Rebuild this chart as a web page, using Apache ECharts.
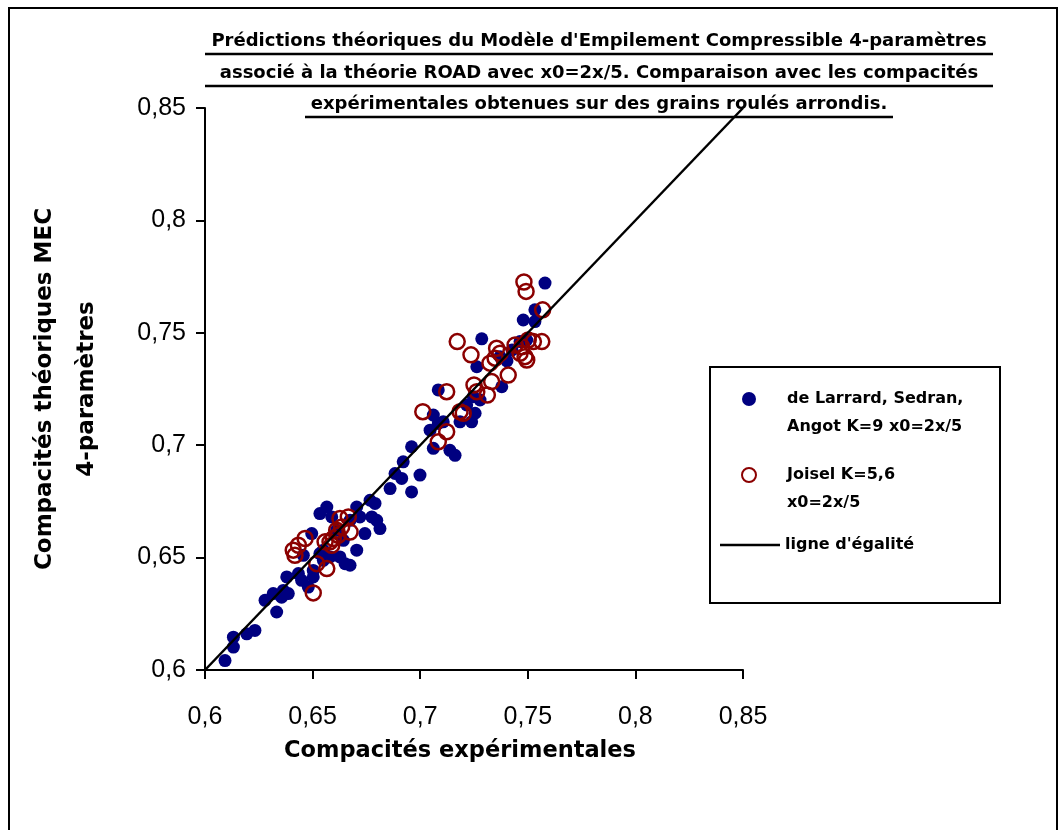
<!DOCTYPE html>
<html>
<head>
<meta charset="utf-8">
<script src="https://cdn.jsdelivr.net/npm/echarts@6/dist/echarts.min.js"></script>
<style>
html,body{margin:0;padding:0;background:#fff;}
#chart{width:1064px;height:830px;}
</style>
</head>
<body>
<div id="chart"></div>
<script>
// ---- Chart texts ----
const titleLines = [
  "Prédictions théoriques du Modèle d'Empilement Compressible 4-paramètres",
  "associé à la théorie ROAD avec x0=2x/5. Comparaison avec les compacités",
  "expérimentales obtenues sur des grains roulés arrondis."
];
const xAxisName = "Compacités expérimentales";
const yAxisName = "Compacités théoriques MEC\n4-paramètres";
const seriesNames = [
  "de Larrard, Sedran,\nAngot K=9 x0=2x/5",
  "Joisel K=5,6\nx0=2x/5",
  "ligne d'égalité"
];
// ---- Axis ticks ----
const tickValues = [0.6, 0.65, 0.7, 0.75, 0.8, 0.85];
const tickLabels = ["0,6", "0,65", "0,7", "0,75", "0,8", "0,85"];

// ---- Data: [experimental, theoretical] ----
const larrardPoints = [
  [0.6093,0.6042],[0.6132,0.6102],[0.6132,0.6146],[0.6194,0.6161],[0.6232,0.6176],
  [0.6279,0.6310],[0.6317,0.6340],[0.6333,0.6258],[0.6356,0.6324],[0.6364,0.6354],
  [0.6387,0.6340],[0.6380,0.6414],[0.6434,0.6429],[0.6449,0.6399],[0.6480,0.6369],
  [0.6496,0.6607],[0.6534,0.6696],[0.6566,0.6725],[0.6503,0.6443],[0.6503,0.6414],
  [0.6457,0.6510],[0.6550,0.6533],[0.6534,0.6518],[0.6581,0.6503],[0.6627,0.6503],
  [0.6651,0.6473],[0.6674,0.6466],[0.6643,0.6577],[0.6612,0.6622],[0.6705,0.6533],
  [0.6674,0.6666],[0.6720,0.6681],[0.6705,0.6725],[0.6743,0.6607],[0.6775,0.6681],
  [0.6798,0.6666],[0.6813,0.6629],[0.6767,0.6755],[0.6790,0.6741],[0.6860,0.6807],
  [0.6883,0.6874],[0.6914,0.6852],[0.6960,0.6792],[0.6960,0.6993],[0.6921,0.6926],
  [0.6999,0.6867],[0.7061,0.6986],[0.7046,0.7067],[0.7061,0.7134],[0.7084,0.7097],
  [0.7107,0.7104],[0.7084,0.7246],[0.7138,0.6977],[0.7162,0.6955],[0.7185,0.7104],
  [0.7239,0.7104],[0.7255,0.7142],[0.7216,0.7179],[0.7247,0.7216],[0.7278,0.7201],
  [0.7263,0.7349],[0.7286,0.7473],[0.7379,0.7260],[0.7371,0.7394],[0.7427,0.7424],
  [0.7464,0.7461],[0.7495,0.7468],[0.7479,0.7557],[0.7533,0.7550],[0.7533,0.7602],
  [0.7580,0.7721],[0.7403,0.7375],[0.6550,0.6488],[0.6589,0.6681]
];
const joiselPoints = [
  [0.7482,0.7726],[0.7492,0.7684],[0.7569,0.7602],[0.7172,0.7461],[0.7236,0.7402],
  [0.7355,0.7431],[0.7371,0.7409],[0.7348,0.7387],[0.7324,0.7365],[0.7441,0.7446],
  [0.7472,0.7438],[0.7502,0.7468],[0.7526,0.7461],[0.7565,0.7461],[0.7464,0.7409],
  [0.7487,0.7394],[0.7495,0.7379],[0.7409,0.7312],[0.7332,0.7283],[0.7250,0.7268],
  [0.7263,0.7238],[0.7312,0.7223],[0.7123,0.7238],[0.7012,0.7149],[0.7185,0.7149],
  [0.7200,0.7142],[0.7123,0.7060],[0.7084,0.7015],[0.6627,0.6674],[0.6666,0.6681],
  [0.6465,0.6585],[0.6434,0.6555],[0.6410,0.6533],[0.6418,0.6510],[0.6612,0.6622],
  [0.6619,0.6599],[0.6674,0.6614],[0.6558,0.6570],[0.6581,0.6570],[0.6589,0.6555],
  [0.6596,0.6585],[0.6519,0.6473],[0.6566,0.6451],[0.6503,0.6343],[0.6635,0.6636]
];
const equalityLine = [[0.6,0.6],[0.85,0.85]];

const tickFmt = function (v) {
  const i = tickValues.findIndex(t => Math.abs(t - v) < 1e-6);
  return i >= 0 ? tickLabels[i] : String(v).replace('.', ',');
};

const FONT = '"DejaVu Sans", sans-serif';
const axisCommon = {
  type: 'value', min: 0.6, max: 0.85, interval: 0.05,
  axisLine: { show: true, onZero: false, lineStyle: { color: '#000', width: 2 } },
  axisTick: { show: true, inside: false, length: 9, lineStyle: { color: '#000', width: 2 } },
  splitLine: { show: false },
  axisLabel: { formatter: tickFmt, color: '#000', fontFamily: '"Liberation Sans", Arial, sans-serif', fontSize: 25 },
  nameLocation: 'middle'
};

const chart = echarts.init(document.getElementById('chart'), null, { renderer: 'canvas' });
const titleY = [41, 73, 104];
const underline = [[205, 993, 54], [205, 993, 86], [305, 893, 117]];
const graphics = [
  { type: 'rect', shape: { x: 9, y: 8, width: 1048, height: 840 }, style: { fill: 'none', stroke: '#000', lineWidth: 2 }, silent: true, z: 0 },
  { type: 'rect', shape: { x: 710, y: 367, width: 290, height: 236 }, style: { fill: '#fff', stroke: '#000', lineWidth: 2 }, silent: true, z: -1 }
];
titleLines.forEach((t, i) => {
  graphics.push({ type: 'text', x: 599, y: titleY[i], style: { text: t, align: 'center', verticalAlign: 'middle', fontFamily: FONT, fontWeight: 'bold', fontSize: 18, fill: '#000' }, silent: true, z: 10 });
  graphics.push({ type: 'line', shape: { x1: underline[i][0], y1: underline[i][2], x2: underline[i][1], y2: underline[i][2] }, style: { stroke: '#000', lineWidth: 2.5 }, silent: true, z: 10 });
});

const legendText = { fontFamily: FONT, fontWeight: 'bold', fontSize: 16, lineHeight: 28, color: '#000' };

chart.setOption({
  animation: false,
  backgroundColor: '#fff',
  grid: { left: 205, right: 321, top: 108, bottom: 160, containLabel: false },
  xAxis: Object.assign({}, axisCommon, {
    axisLabel: Object.assign({}, axisCommon.axisLabel, { margin: 35 }),
    name: xAxisName, nameGap: 70,
    nameTextStyle: { fontFamily: FONT, fontWeight: 'bold', fontSize: 22.5, color: '#000', padding: [0, 28, 0, 0] }
  }),
  yAxis: Object.assign({}, axisCommon, {
    axisLabel: Object.assign({}, axisCommon.axisLabel, { margin: 19 }),
    name: yAxisName, nameGap: 97, nameRotate: 90,
    nameTextStyle: { fontFamily: FONT, fontWeight: 'bold', fontSize: 23, lineHeight: 42, color: '#000' }
  }),
  legend: [
    {
      left: 741, top: 357, orient: 'vertical', padding: 0, itemGap: -8,
      itemWidth: 66, itemHeight: 14, selectedMode: false,
      formatter: function (name) { return '\n' + name; },
      textStyle: legendText,
      data: [
        { name: seriesNames[0], icon: 'circle' },
        { name: seriesNames[1], icon: 'circle' }
      ]
    },
    {
      left: 720, top: 531, orient: 'vertical', padding: 0,
      itemWidth: 60, itemHeight: 2.5, selectedMode: false,
      textStyle: legendText,
      data: [{ name: seriesNames[2], icon: 'rect' }]
    }
  ],
  graphic: graphics,
  series: [
    {
      type: 'scatter', name: seriesNames[0], data: larrardPoints,
      symbol: 'circle', symbolSize: 13,
      itemStyle: { color: '#000080', opacity: 1 },
      emphasis: { disabled: true }, z: 2
    },
    {
      type: 'scatter', name: seriesNames[1], data: joiselPoints,
      symbol: 'circle', symbolSize: 15,
      itemStyle: { color: 'rgba(255,255,255,0)', borderColor: '#8B0000', borderWidth: 2.5, opacity: 1 },
      emphasis: { disabled: true }, z: 3
    },
    {
      type: 'line', name: seriesNames[2], data: equalityLine,
      symbol: 'none', showSymbol: false,
      lineStyle: { color: '#000', width: 2.5 },
      itemStyle: { color: '#000' },
      emphasis: { disabled: true }, z: 4
    }
  ]
});
</script>
</body>
</html>
